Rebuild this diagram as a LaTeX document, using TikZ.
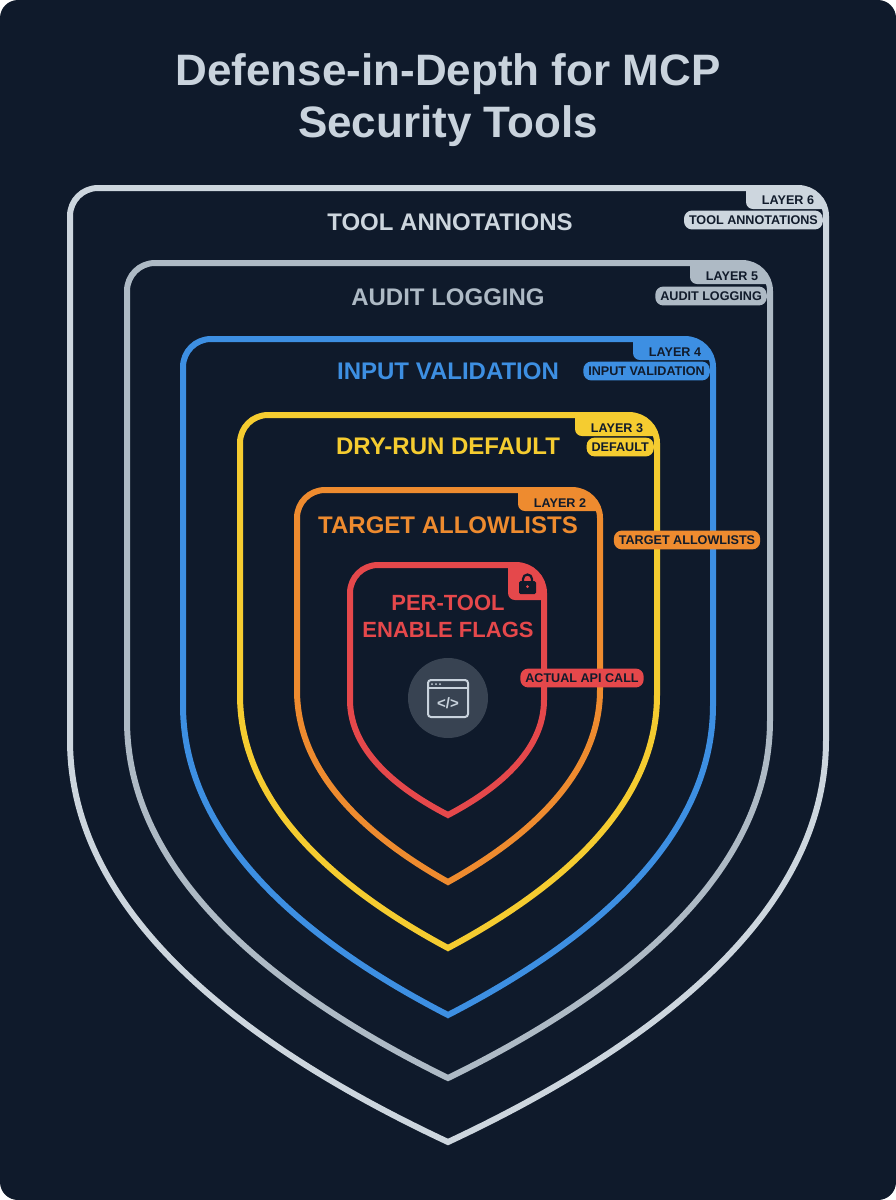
\documentclass[tikz,border=0pt]{standalone}
\usepackage{fontspec}
\setmainfont{Liberation Sans}
\begin{document}
\definecolor{bg}{HTML}{0F1A2B}
\definecolor{cS}{HTML}{CDD6DE}
\definecolor{cA}{HTML}{AEBAC5}
\definecolor{cB}{HTML}{3D8FE2}
\definecolor{cY}{HTML}{F5CC30}
\definecolor{cO}{HTML}{EE8B2F}
\definecolor{cR}{HTML}{E5484B}
\definecolor{ttl}{HTML}{C9D3DD}
\definecolor{ink}{HTML}{111B2B}
\def\shp#1#2#3#4#5{(#1,#4) [rounded corners=28] -- (#1,#3) -- (#2,#3) [sharp corners] -- (#2,#4)
 .. controls (#2,{#4+0.45*(#5-#4)}) and ({448+0.5*(#2-448)},{#5-0.22*(#5-#4)}) .. (448,#5)
 .. controls ({448+0.5*(#1-448)},{#5-0.22*(#5-#4)}) and (#1,{#4+0.45*(#5-#4)}) .. (#1,#4) -- cycle}
\begin{tikzpicture}[x=1pt,y=-1pt,
  big/.style={font=\bfseries\fontsize{24}{28}\selectfont},
  sm/.style={font=\bfseries\fontsize{12.6}{14}\selectfont,text=ink},
  pill/.style={sm,rounded corners=8,inner sep=5pt}]
\useasboundingbox (0,0) rectangle (896,1200);
\fill[bg,rounded corners=18] (0,0) rectangle (896,1200);
\node[font=\bfseries\fontsize{44}{52}\selectfont,text=ttl,align=center] (title) at (448,100) {Defense-in-Depth for MCP\\Security Tools};
% shields
\foreach \L/\R/\T/\Y/\P/\c/\w/\h in {70/826/188/740/1142/cS/80/21,127/770/263/720/1078/cA/80/21,183/713/339/705/1015/cB/80/21,240/657/415/695/948/cY/82/21,297/600/490/690/882/cO/82/21,350/544/565/700/815/cR/36/35}{
  \begin{scope}
   \clip \shp{\L}{\R}{\T}{\Y}{\P};
   \fill[\c,rounded corners=7] ({\R-\w},{\T-10}) rectangle ({\R+10},{\T+\h});
  \end{scope}
  \draw[\c,line width=6] \shp{\L}{\R}{\T}{\Y}{\P};
}
% main labels
\node[big,text=cS] (l6) at (450,222) {TOOL ANNOTATIONS};
\node[big,text=cA] (l5) at (448,297) {AUDIT LOGGING};
\node[big,text=cB] (l4) at (448,371) {INPUT VALIDATION};
\node[big,text=cY] (l3) at (448,446) {DRY-RUN DEFAULT};
\node[big,text=cO] (l2) at (448,525) {TARGET ALLOWLISTS};
\node[text=cR,align=center,font=\bfseries\fontsize{22}{27}\selectfont] (l1) at (448,616) {PER-TOOL\\ENABLE FLAGS};
% tabs
\node[sm] (t6) at (788,200) {LAYER 6};
\node[pill,fill=cS,anchor=east] (p6) at (823,220) {TOOL ANNOTATIONS};
\node[sm] (t5) at (732,276) {LAYER 5};
\node[pill,fill=cA,anchor=east] (p5) at (767,296) {AUDIT LOGGING};
\node[sm] (t4) at (675,352) {LAYER 4};
\node[pill,fill=cB,anchor=east] (p4) at (710,371) {INPUT VALIDATION};
\node[sm] (t3) at (617,428) {LAYER 3};
\node[pill,fill=cY,anchor=east] (p3) at (654,447) {DEFAULT};
\node[sm] (t2) at (560,503) {LAYER 2};
\node[pill,fill=cO] (p2) at (687,540) {TARGET ALLOWLISTS};
\node[pill,fill=cR] (p1) at (582,678) {ACTUAL API CALL};
% lock
\draw[ink,line width=2.2] (523,582) -- (523,579) arc[start angle=180,end angle=360,radius=4.5] -- (532,582);
\fill[ink,rounded corners=1.5] (519,581) rectangle (536,594);
\fill[cR] (527.5,586.5) circle (1.5);
% icon
\node[circle,fill=ttl!22!bg,minimum size=80] (ic) at (448,698) {};
\draw[ttl,line width=2,rounded corners=3] (428,680) rectangle (468,717);
\draw[ttl,line width=2] (428,688) -- (468,688);
\foreach \d in {432,436,440} \fill[ttl] (\d,684) circle (1);
\node[text=ttl,font=\bfseries\fontsize{15}{16}\selectfont] at (448,703) {</>};
\end{tikzpicture}
\end{document}
